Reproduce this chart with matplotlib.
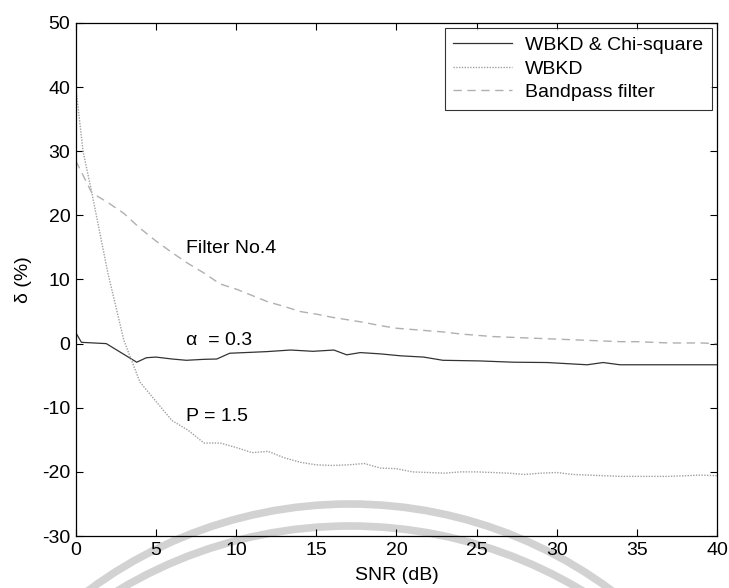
import matplotlib
matplotlib.use("Agg")
import matplotlib.pyplot as plt
from matplotlib.patches import Arc

plt.rcParams["font.family"] = ["Liberation Sans", "DejaVu Sans"]
plt.rcParams["axes.unicode_minus"] = False

# SNR axis (dB)
snr = list(range(0, 41))

# WBKD & Chi-square (solid)
x_chi = [0, 0.35, 1.9, 3.8, 4.4, 5, 6, 6.9, 8, 8.8, 9.6, 11, 11.9, 13.4, 14.8,
         16.1, 16.9, 17.75, 19, 20.25, 21.7, 22.9, 25.2, 27.3, 29.4, 31.9,
         32.9, 33.95, 35, 37, 40]
y_chi = [1.7, 0.2, 0.0, -2.9, -2.2, -2.1, -2.4, -2.6, -2.45, -2.4, -1.5, -1.35,
         -1.25, -1.0, -1.2, -1.0, -1.75, -1.4, -1.6, -1.9, -2.1, -2.6, -2.7,
         -2.9, -2.95, -3.3, -2.95, -3.3, -3.3, -3.3, -3.3]

# WBKD (dotted)
x_wbkd = [0, 0.45, 1] + list(range(2, 41))
y_wbkd = [40, 30, 23.5, 11, 0.5, -6, -9, -12, -13.5, -15.5, -15.5, -16.2, -17,
          -16.8, -17.8, -18.5, -18.9, -19.0, -18.9, -18.7, -19.4, -19.5, -20,
          -20.1, -20.2, -20.0, -20.0, -20.1, -20.2, -20.4, -20.2, -20.1, -20.4,
          -20.5, -20.6, -20.7, -20.7, -20.7, -20.7, -20.6, -20.5, -20.6]

# Bandpass filter (dashed)
y_band = [28.5, 23.5, 22, 20.3, 18, 16, 14.2, 12.5, 11, 9.3, 8.5, 7.5, 6.5,
          5.8, 5.0, 4.6, 4.1, 3.7, 3.3, 2.8, 2.4, 2.2, 2.0, 1.8, 1.5, 1.3, 1.1,
          1.0, 0.9, 0.8, 0.7, 0.6, 0.5, 0.4, 0.3, 0.3, 0.2, 0.1, 0.1, 0.1, 0.0]

fs = 14

fig = plt.figure(figsize=(7.29, 5.88), dpi=100)

# faint watermark arcs in pixel coordinates (behind the plot)
bg = fig.add_axes([0, 0, 1, 1], zorder=0)
bg.set_xlim(0, 729)
bg.set_ylim(588, 0)
bg.axis("off")
bg.add_patch(Arc((350, 943), 2 * 439, 2 * 439, theta1=180, theta2=360,
                 color="#d2d2d2", lw=5.5))
bg.add_patch(Arc((350, 976), 2 * 450, 2 * 450, theta1=180, theta2=360,
                 color="#d2d2d2", lw=5.5))

ax = fig.add_axes([0.104, 0.0884, 0.8795, 0.8726], zorder=1)
ax.patch.set_alpha(0)

ax.plot(x_chi, y_chi, color="#333333", lw=0.9, label="WBKD & Chi-square")
ax.plot(x_wbkd, y_wbkd, color="#a0a0a0", lw=1.0, linestyle=(0, (1, 1)),
        label="WBKD")
ax.plot(snr, y_band, color="#b0b0b0", lw=1.0, linestyle=(0, (6, 4)),
        label="Bandpass filter")

ax.text(6.9, 14.9, "Filter No.4", fontsize=fs, va="center")
ax.text(6.9, 0.5, "α  = 0.3", fontsize=fs, va="center")
ax.text(6.9, -11.3, "P = 1.5", fontsize=fs, va="center")

ax.set_xlim(0, 40)
ax.set_ylim(-30, 50)
ax.set_xticks(range(0, 41, 5))
ax.set_yticks(range(-30, 51, 10))
ax.tick_params(direction="in", top=True, right=True, labelsize=fs,
               length=5, width=0.8, pad=4)
for s in ax.spines.values():
    s.set_linewidth(0.9)

ax.set_xlabel("SNR (dB)", fontsize=fs, labelpad=6)
ax.set_ylabel("δ (%)", fontsize=fs, labelpad=7)

leg = ax.legend(loc="upper right", fontsize=fs, frameon=True, fancybox=False,
                handlelength=3.0, borderaxespad=0.25, labelspacing=0.3,
                handletextpad=0.7, borderpad=0.45)
leg.get_frame().set_edgecolor("black")
leg.get_frame().set_linewidth(0.8)

fig.savefig("out.png", dpi=100)
